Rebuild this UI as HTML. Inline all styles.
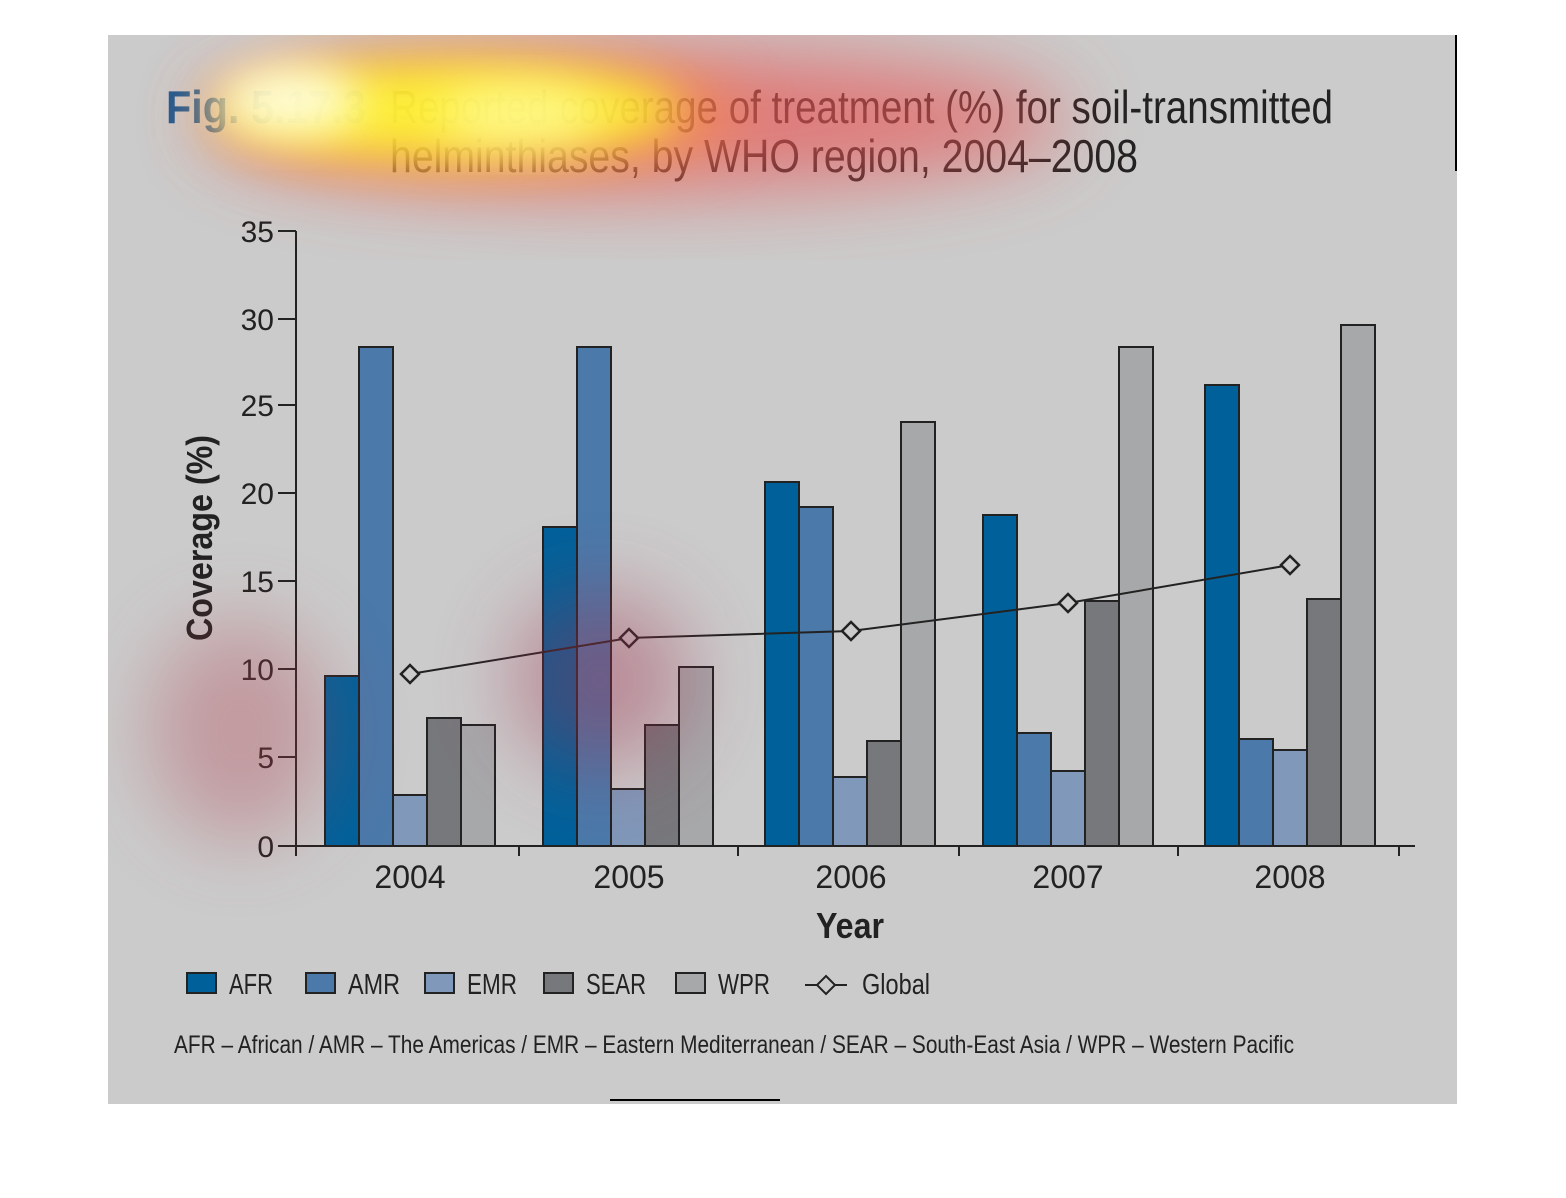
<!DOCTYPE html>
<html><head><meta charset="utf-8"><style>
html,body{margin:0;padding:0;background:#fff;}
svg{display:block;}
text{font-family:"Liberation Sans",sans-serif;}
</style></head><body>
<svg width="1566" height="1198" viewBox="0 0 1566 1198" xmlns="http://www.w3.org/2000/svg">
<defs>
<filter id="b1" x="-50%" y="-50%" width="200%" height="200%"><feGaussianBlur stdDeviation="30"/></filter>
<filter id="b2" x="-50%" y="-50%" width="200%" height="200%"><feGaussianBlur stdDeviation="22"/></filter>
<filter id="b3" x="-50%" y="-50%" width="200%" height="200%"><feGaussianBlur stdDeviation="40"/></filter>
<clipPath id="pc"><rect x="108" y="35" width="1349" height="1069"/></clipPath>
</defs>
<rect x="108" y="35" width="1349" height="1069" fill="#cbcbcb"/>
<line x1="1456" y1="35" x2="1456" y2="171" stroke="#000" stroke-width="2"/>
<line x1="610" y1="1100" x2="780" y2="1100" stroke="#000" stroke-width="2"/>

<text x="166" y="123" font-size="46" font-weight="bold" fill="#1c5a92" textLength="200" lengthAdjust="spacingAndGlyphs">Fig. 5.17.3</text>
<text x="390" y="123" font-size="46" fill="#222" textLength="943" lengthAdjust="spacingAndGlyphs">Reported coverage of treatment (%) for soil-transmitted</text>
<text x="390" y="172" font-size="46" fill="#222" textLength="748" lengthAdjust="spacingAndGlyphs">helminthiases, by WHO region, 2004–2008</text>

<g stroke="#222" stroke-width="2" fill="none">
<line x1="296" y1="231" x2="296" y2="846"/>
<line x1="278" y1="846" x2="1415" y2="846"/>
<line x1="278" y1="231" x2="296" y2="231"/>
<line x1="278" y1="319" x2="296" y2="319"/>
<line x1="278" y1="405" x2="296" y2="405"/>
<line x1="278" y1="493" x2="296" y2="493"/>
<line x1="278" y1="581" x2="296" y2="581"/>
<line x1="278" y1="669" x2="296" y2="669"/>
<line x1="278" y1="757" x2="296" y2="757"/>
<line x1="296" y1="846" x2="296" y2="856"/>
<line x1="519" y1="846" x2="519" y2="856"/>
<line x1="738" y1="846" x2="738" y2="856"/>
<line x1="959" y1="846" x2="959" y2="856"/>
<line x1="1178" y1="846" x2="1178" y2="856"/>
<line x1="1399" y1="846" x2="1399" y2="856"/>
</g>
<g font-size="30" fill="#222" text-anchor="end">
<text x="274" y="242">35</text><text x="274" y="330">30</text><text x="274" y="416">25</text>
<text x="274" y="504">20</text><text x="274" y="592">15</text><text x="274" y="680">10</text>
<text x="274" y="768">5</text><text x="274" y="857">0</text>
</g>
<g font-size="32" fill="#222" text-anchor="middle">
<text x="410" y="888">2004</text><text x="629" y="888">2005</text><text x="851" y="888">2006</text>
<text x="1068" y="888">2007</text><text x="1290" y="888">2008</text>
</g>
<text x="850" y="938" font-size="36" font-weight="bold" fill="#222" text-anchor="middle" textLength="68" lengthAdjust="spacingAndGlyphs">Year</text>
<text transform="translate(212,538) rotate(-90)" font-size="36" font-weight="bold" fill="#222" text-anchor="middle" textLength="206" lengthAdjust="spacingAndGlyphs">Coverage (%)</text>

<g stroke="#222" stroke-width="2">
<rect x="325" y="676" width="34" height="170" fill="#00619a"/>
<rect x="359" y="347" width="34" height="499" fill="#4a79aa"/>
<rect x="393" y="795" width="34" height="51" fill="#8098b9"/>
<rect x="427" y="718" width="34" height="128" fill="#77787c"/>
<rect x="461" y="725" width="34" height="121" fill="#a7a8aa"/>

<rect x="543" y="527" width="34" height="319" fill="#00619a"/>
<rect x="577" y="347" width="34" height="499" fill="#4a79aa"/>
<rect x="611" y="789" width="34" height="57" fill="#8098b9"/>
<rect x="645" y="725" width="34" height="121" fill="#77787c"/>
<rect x="679" y="667" width="34" height="179" fill="#a7a8aa"/>

<rect x="765" y="482" width="34" height="364" fill="#00619a"/>
<rect x="799" y="507" width="34" height="339" fill="#4a79aa"/>
<rect x="833" y="777" width="34" height="69" fill="#8098b9"/>
<rect x="867" y="741" width="34" height="105" fill="#77787c"/>
<rect x="901" y="422" width="34" height="424" fill="#a7a8aa"/>

<rect x="983" y="515" width="34" height="331" fill="#00619a"/>
<rect x="1017" y="733" width="34" height="113" fill="#4a79aa"/>
<rect x="1051" y="771" width="34" height="75" fill="#8098b9"/>
<rect x="1085" y="601" width="34" height="245" fill="#77787c"/>
<rect x="1119" y="347" width="34" height="499" fill="#a7a8aa"/>

<rect x="1205" y="385" width="34" height="461" fill="#00619a"/>
<rect x="1239" y="739" width="34" height="107" fill="#4a79aa"/>
<rect x="1273" y="750" width="34" height="96" fill="#8098b9"/>
<rect x="1307" y="599" width="34" height="247" fill="#77787c"/>
<rect x="1341" y="325" width="34" height="521" fill="#a7a8aa"/>
</g>

<polyline points="410,674 629,638 851,631 1068,603 1290,565" fill="none" stroke="#222" stroke-width="2"/>
<g fill="#cbcbcb" stroke="#222" stroke-width="2.5">
<path d="M410,665 L419,674 L410,683 L401,674 Z"/>
<path d="M629,629 L638,638 L629,647 L620,638 Z"/>
<path d="M851,622 L860,631 L851,640 L842,631 Z"/>
<path d="M1068,594 L1077,603 L1068,612 L1059,603 Z"/>
<path d="M1290,556 L1299,565 L1290,574 L1281,565 Z"/>
</g>

<g stroke="#222" stroke-width="2">
<rect x="187" y="973" width="29" height="20" fill="#00619a"/>
<rect x="306" y="973" width="29" height="20" fill="#4a79aa"/>
<rect x="425" y="973" width="29" height="20" fill="#8098b9"/>
<rect x="544" y="973" width="29" height="20" fill="#77787c"/>
<rect x="676" y="973" width="29" height="20" fill="#a7a8aa"/>
<line x1="805" y1="985" x2="847" y2="985"/>
<path d="M826,976 L835,985 L826,994 L817,985 Z" fill="#cbcbcb"/>
</g>
<g font-size="29" fill="#222">
<text x="229" y="994" textLength="44" lengthAdjust="spacingAndGlyphs">AFR</text>
<text x="348" y="994" textLength="52" lengthAdjust="spacingAndGlyphs">AMR</text>
<text x="467" y="994" textLength="50" lengthAdjust="spacingAndGlyphs">EMR</text>
<text x="586" y="994" textLength="60" lengthAdjust="spacingAndGlyphs">SEAR</text>
<text x="718" y="994" textLength="52" lengthAdjust="spacingAndGlyphs">WPR</text>
<text x="862" y="994" textLength="68" lengthAdjust="spacingAndGlyphs">Global</text>
</g>
<text x="174" y="1053" font-size="25" fill="#222" textLength="1120" lengthAdjust="spacingAndGlyphs">AFR – African / AMR – The Americas / EMR – Eastern Mediterranean / SEAR – South-East Asia / WPR – Western Pacific</text>

<g clip-path="url(#pc)">
<ellipse cx="640" cy="120" rx="430" ry="70" fill="#e85555" filter="url(#b3)" opacity="0.7"/>
<ellipse cx="470" cy="115" rx="270" ry="60" fill="#ff9040" filter="url(#b1)" opacity="0.6"/>
<ellipse cx="450" cy="110" rx="230" ry="48" fill="#ffff30" filter="url(#b2)" opacity="0.85"/>
<ellipse cx="290" cy="100" rx="70" ry="35" fill="#ffffe8" filter="url(#b2)" opacity="0.9"/>
<ellipse cx="520" cy="115" rx="80" ry="30" fill="#ffffc0" filter="url(#b2)" opacity="0.6"/>
<ellipse cx="240" cy="730" rx="90" ry="110" fill="#b04050" filter="url(#b3)" opacity="0.35"/>
<ellipse cx="600" cy="680" rx="90" ry="90" fill="#a03050" filter="url(#b3)" opacity="0.4"/>
</g>
</svg>
</body></html>
